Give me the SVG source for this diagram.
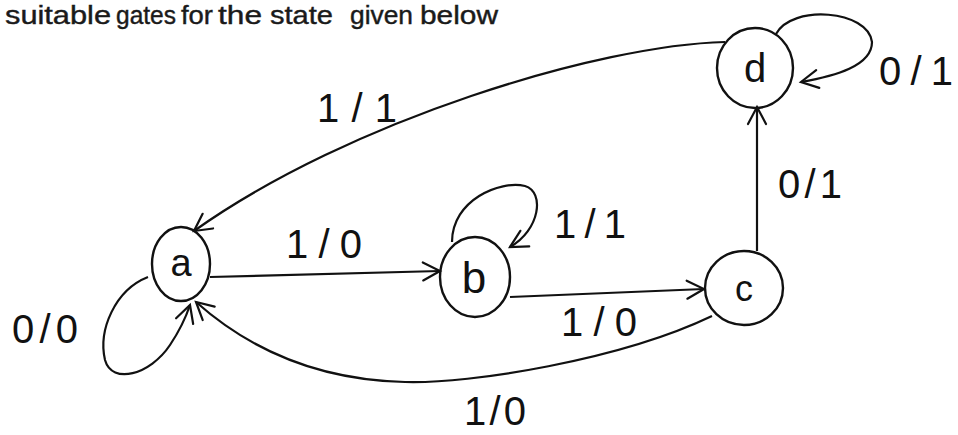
<svg xmlns="http://www.w3.org/2000/svg" width="958" height="435" viewBox="0 0 958 435">
<style>
.n{fill:none;stroke:#111;stroke-width:2.4}
.e{fill:none;stroke:#111;stroke-width:2.2;marker-end:url(#ah)}
.s{font-family:"Liberation Sans",Arial,sans-serif;fill:#111;text-anchor:middle}
.lbl{font-family:"Liberation Sans",Arial,sans-serif;fill:#111;font-size:40px;text-anchor:middle}
.title{font-family:"Liberation Sans",Arial,sans-serif;fill:#1a1a1a;stroke:#1a1a1a;stroke-width:0.4;font-size:25px}
</style>
<defs>
<marker id="ah" markerUnits="userSpaceOnUse" markerWidth="24" markerHeight="24" viewBox="-20 -12 24 24" refX="0" refY="0" orient="auto">
<path d="M -17 -9 L 0 0 L -17 9" fill="none" stroke="#111" stroke-width="2.2" stroke-linecap="round"/>
</marker>
</defs>
<rect width="958" height="435" fill="#fff"/>
<text class="title" y="24"><tspan x="5" textLength="106" lengthAdjust="spacingAndGlyphs">suitable</tspan> <tspan x="116" textLength="60" lengthAdjust="spacingAndGlyphs">gates</tspan> <tspan x="181" textLength="32" lengthAdjust="spacingAndGlyphs">for</tspan> <tspan x="218" textLength="44" lengthAdjust="spacingAndGlyphs">the</tspan> <tspan x="270" textLength="63" lengthAdjust="spacingAndGlyphs">state</tspan> <tspan x="350" textLength="63" lengthAdjust="spacingAndGlyphs">given</tspan> <tspan x="420" textLength="78" lengthAdjust="spacingAndGlyphs">below</tspan></text>
<g id="connectors">
<path id="e-d-a" class="e" d="M 725 42 C 600 45, 350 120, 194 231"/>
<path id="e-a-b" class="e" d="M 210 277 L 440 271"/>
<path id="e-b-c" class="e" d="M 510 297 L 704 289"/>
<path id="e-c-a" class="e" d="M 712 316 C 620 360, 470 384, 405 382 C 320 380, 250 350, 196 302"/>
<path id="e-c-d" class="e" d="M 757 251 L 757 107"/>
<path id="e-d-d" class="e" d="M 776 34 C 792 4, 868 10, 872 42 C 872 66, 835 76, 801 82"/>
<path id="e-b-b" class="e" d="M 452 242 C 452 200, 500 180, 525 186 C 545 192, 540 230, 510 247"/>
<path id="e-a-a" class="e" d="M 148 277 C 115 290, 98 330, 105 360 C 112 385, 150 375, 170 345 C 178 333, 185 320, 190 305"/>
<text class="lbl" x="357" y="122" textLength="80" lengthAdjust="spacing">1/1</text>
<text class="lbl" x="324" y="258" textLength="76" lengthAdjust="spacing">1/0</text>
<text class="lbl" x="590" y="238" textLength="72" lengthAdjust="spacing">1/1</text>
<text class="lbl" x="599" y="336" textLength="76" lengthAdjust="spacing">1/0</text>
<text class="lbl" x="495" y="425" textLength="62" lengthAdjust="spacing">1/0</text>
<text class="lbl" x="810" y="198" textLength="64" lengthAdjust="spacing">0/1</text>
<text class="lbl" x="916" y="85" textLength="74" lengthAdjust="spacing">0/1</text>
<text class="lbl" x="45" y="343" textLength="66" lengthAdjust="spacing">0/0</text>
</g>
<g id="node-a"><ellipse class="n" cx="181" cy="264" rx="29" ry="37"/><text class="s" x="181" y="276" font-size="38">a</text></g>
<g id="node-b"><ellipse class="n" cx="475" cy="277" rx="35" ry="40"/><text class="s" x="474" y="293" font-size="44">b</text></g>
<g id="node-c"><ellipse class="n" cx="744" cy="288" rx="39" ry="37"/><text class="s" x="744" y="301" font-size="36">c</text></g>
<g id="node-d"><ellipse class="n" cx="755" cy="68" rx="38" ry="40"/><text class="s" x="755" y="82" font-size="40">d</text></g>
</svg>
